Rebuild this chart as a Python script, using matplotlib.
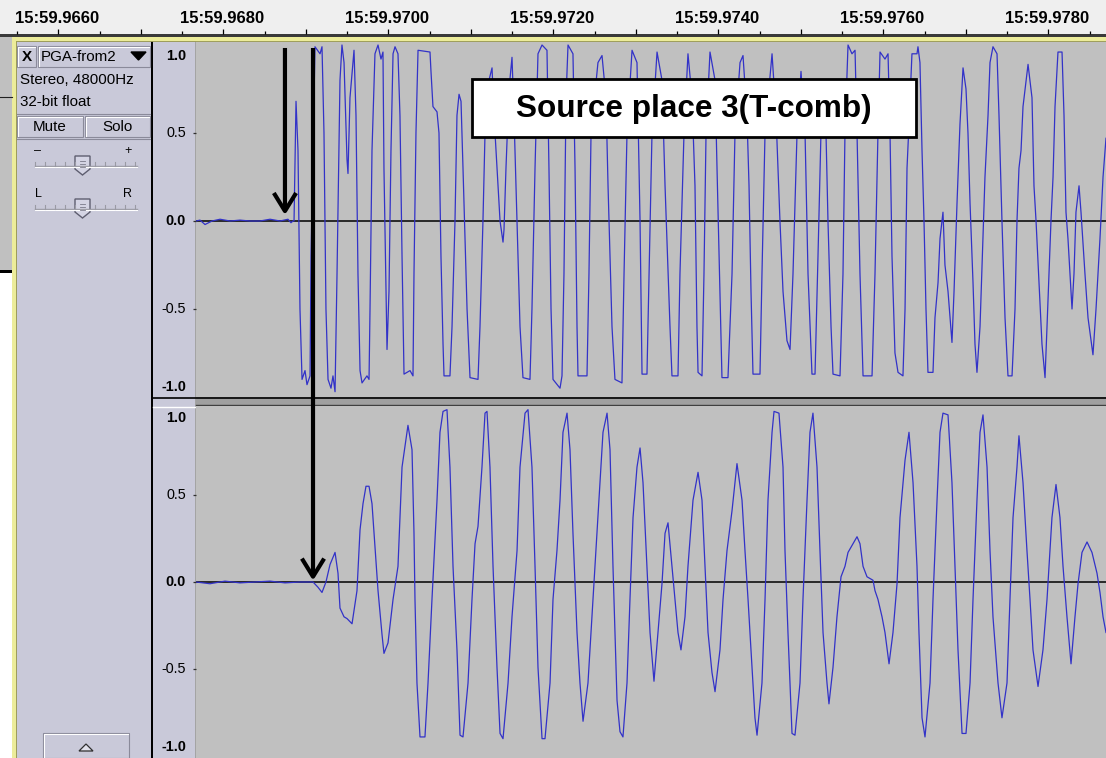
import numpy as np
import matplotlib
matplotlib.use("Agg")
import matplotlib.pyplot as plt
from matplotlib.patches import Rectangle, Polygon, ConnectionPatch

W, H = 1106, 758
FONT = ["Liberation Sans", "DejaVu Sans"]

# time axis: milliseconds after 15:59.9660
ruler_label_ms = [0, 2, 4, 6, 8, 10, 12]
ruler_labels = ["15:59.9660", "15:59.9680", "15:59.9700", "15:59.9720",
                "15:59.9740", "15:59.9760", "15:59.9780"]

amp_ticks = [1.0, 0.5, 0.0, -0.5, -1.0]
amp_labels = ["1.0", "0.5", "0.0", "-0.5", "-1.0"]

# upper channel (left)
top_t = [2.170, 2.218, 2.279, 2.364, 2.461, 2.582, 2.703, 2.824, 2.945, 3.067,
         3.188, 3.285, 3.321, 3.345, 3.358, 3.382, 3.406, 3.430, 3.455, 3.491,
         3.515, 3.552, 3.564, 3.612, 3.673, 3.697, 3.721, 3.745, 3.770, 3.806,
         3.830, 3.855, 3.879, 3.915, 3.939, 3.964, 4.000, 4.012, 4.036, 4.085,
         4.109, 4.133, 4.158, 4.182, 4.242, 4.267, 4.279, 4.303, 4.339, 4.376,
         4.412, 4.436, 4.448, 4.473, 4.485, 4.509, 4.533, 4.558, 4.582, 4.618,
         4.642, 4.667, 4.691, 4.764, 4.800, 4.812, 4.836, 4.861, 5.006, 5.018,
         5.042, 5.091, 5.115, 5.139, 5.164, 5.176, 5.248, 5.273, 5.309, 5.333,
         5.358, 5.382, 5.406, 5.455, 5.491, 5.588, 5.612, 5.648, 5.673, 5.721,
         5.758, 5.782, 5.818, 5.855, 5.891, 5.903, 5.927, 5.964, 6.000, 6.024,
         6.061, 6.097, 6.133, 6.218, 6.242, 6.279, 6.315, 6.364, 6.424, 6.448,
         6.473, 6.497, 6.582, 6.606, 6.630, 6.655, 6.679, 6.739, 6.764, 6.788,
         6.800, 6.909, 6.933, 6.958, 7.042, 7.091, 7.139, 7.164, 7.212, 7.248,
         7.333, 7.358, 7.394, 7.455, 7.515, 7.552, 7.576, 7.636, 7.661, 7.697,
         7.758, 7.818, 7.855, 7.915, 7.939, 8.012, 8.036, 8.085, 8.133, 8.182,
         8.218, 8.242, 8.255, 8.303, 8.327, 8.352, 8.400, 8.461, 8.485, 8.521,
         8.545, 8.618, 8.667, 8.703, 8.764, 8.800, 8.848, 8.873, 8.897, 8.921,
         9.006, 9.030, 9.067, 9.152, 9.200, 9.248, 9.285, 9.333, 9.370, 9.406,
         9.455, 9.503, 9.552, 9.588, 9.636, 9.673, 9.709, 9.745, 9.770, 9.806,
         9.830, 9.867, 9.891, 9.976, 10.012, 10.036, 10.073, 10.121, 10.158, 10.182,
         10.218, 10.255, 10.364, 10.400, 10.436, 10.461, 10.521, 10.558, 10.582, 10.606,
         10.642, 10.679, 10.739, 10.764, 10.788, 10.812, 10.848, 10.909, 10.921, 10.945,
         10.970, 10.994, 11.018, 11.042, 11.103, 11.127, 11.164, 11.188, 11.224, 11.248,
         11.285, 11.333, 11.358, 11.394, 11.430, 11.467, 11.503, 11.527, 11.552, 11.588,
         11.612, 11.636, 11.673, 11.709, 11.733, 11.770, 11.794, 11.830, 11.879, 11.903,
         11.939, 11.976, 12.012, 12.061, 12.097, 12.121, 12.145, 12.170, 12.194, 12.255,
         12.303, 12.327, 12.352, 12.388, 12.424, 12.461, 12.485, 12.533, 12.558, 12.582,
         12.618, 12.667, 12.691, 12.715, 12.739, 12.764, 12.788, 12.812, 12.836, 12.873,
         12.897, 12.945, 12.982, 13.042, 13.079, 13.127, 13.164, 13.200]
top_amp = [0.0, 0.005, -0.02, 0.0, 0.01, 0.0, 0.005, 0.0, 0.0, 0.01,
           0.0, 0.01, -0.01, 0.0, 0.0, 0.68, 0.4, -0.5, -0.9, -0.85,
           -0.93, -0.88, -0.2, 0.99, 0.95, 0.99, 0.5, -0.5, -0.9, -0.95,
           -0.88, -0.97, -0.3, 0.8, 1.0, 0.9, 0.35, 0.27, 0.7, 0.97,
           0.6, -0.3, -0.85, -0.92, -0.88, -0.9, -0.5, 0.4, 0.95, 1.0,
           0.92, 0.96, 0.3, -0.4, -0.73, -0.4, 0.4, 0.95, 0.99, 0.95,
           0.6, -0.2, -0.87, -0.85, -0.88, -0.3, 0.5, 0.97, 0.96, 0.85,
           0.65, 0.62, 0.5, -0.2, -0.7, -0.88, -0.88, -0.6, 0.0, 0.6,
           0.72, 0.68, 0.3, -0.5, -0.89, -0.9, -0.6, 0.0, 0.5, 0.8,
           0.87, 0.6, 0.3, 0.0, -0.12, -0.05, 0.3, 0.75, 0.93, 0.6,
           0.0, -0.6, -0.89, -0.9, -0.5, 0.3, 0.95, 1.0, 0.97, 0.3,
           -0.5, -0.9, -0.95, -0.88, -0.3, 0.7, 1.0, 0.95, 0.3, -0.6,
           -0.88, -0.88, -0.3, 0.5, 0.9, 0.94, 0.7, 0.2, -0.6, -0.9,
           -0.92, -0.3, 0.5, 0.97, 0.9, 0.0, -0.87, -0.87, -0.3, 0.5,
           0.96, 0.8, 0.2, -0.6, -0.88, -0.88, -0.3, 0.5, 0.95, 0.7,
           0.2, -0.6, -0.86, -0.88, -0.3, 0.5, 0.96, 0.8, 0.3, -0.4,
           -0.89, -0.89, -0.3, 0.5, 0.9, 0.94, 0.6, 0.2, -0.4, -0.87,
           -0.87, -0.3, 0.5, 0.95, 0.6, 0.0, -0.4, -0.68, -0.73, -0.3,
           0.5, 0.85, 0.5, -0.3, -0.87, -0.87, -0.2, 0.5, 0.75, 0.5,
           0.0, -0.6, -0.87, -0.88, -0.3, 0.5, 1.0, 0.95, 0.97, 0.5,
           -0.3, -0.88, -0.88, -0.3, 0.5, 0.96, 0.92, 0.95, 0.5, -0.2,
           -0.75, -0.86, -0.88, -0.5, 0.3, 0.55, 0.95, 0.95, 0.99, 0.9,
           0.4, 0.0, -0.5, -0.86, -0.86, -0.55, -0.35, -0.1, 0.05, -0.25,
           -0.4, -0.69, -0.4, 0.1, 0.55, 0.87, 0.75, 0.5, 0.1, -0.35,
           -0.7, -0.86, -0.6, -0.1, 0.25, 0.6, 0.9, 0.99, 0.95, 0.6,
           0.0, -0.55, -0.88, -0.88, -0.5, 0.0, 0.3, 0.4, 0.65, 0.89,
           0.7, 0.2, 0.0, -0.35, -0.7, -0.89, -0.6, 0.0, 0.25, 0.65,
           0.96, 0.96, 0.6, 0.05, -0.1, -0.3, -0.5, -0.3, 0.05, 0.2,
           0.05, -0.3, -0.55, -0.76, -0.5, -0.1, 0.25, 0.47]

# lower channel (right)
bot_t = [2.170, 2.339, 2.521, 2.703, 2.885, 3.067, 3.248, 3.430, 3.588, 3.648,
         3.697, 3.745, 3.794, 3.855, 3.891, 3.915, 3.964, 4.000, 4.061, 4.121,
         4.158, 4.194, 4.230, 4.267, 4.303, 4.339, 4.376, 4.424, 4.448, 4.497,
         4.558, 4.618, 4.667, 4.739, 4.788, 4.812, 4.824, 4.848, 4.885, 4.945,
         4.982, 5.030, 5.091, 5.127, 5.164, 5.212, 5.248, 5.285, 5.333, 5.370,
         5.406, 5.467, 5.515, 5.552, 5.588, 5.636, 5.673, 5.697, 5.733, 5.770,
         5.818, 5.855, 5.891, 5.952, 6.000, 6.061, 6.097, 6.158, 6.194, 6.242,
         6.279, 6.315, 6.364, 6.400, 6.461, 6.497, 6.545, 6.582, 6.618, 6.667,
         6.703, 6.739, 6.788, 6.824, 6.861, 6.921, 6.982, 7.042, 7.103, 7.152,
         7.188, 7.224, 7.273, 7.309, 7.345, 7.394, 7.430, 7.467, 7.515, 7.552,
         7.588, 7.636, 7.673, 7.721, 7.770, 7.818, 7.855, 7.891, 7.939, 7.976,
         8.012, 8.048, 8.097, 8.133, 8.194, 8.255, 8.303, 8.339, 8.376, 8.424,
         8.461, 8.521, 8.558, 8.606, 8.667, 8.727, 8.788, 8.824, 8.861, 8.909,
         8.945, 8.970, 9.030, 9.067, 9.103, 9.152, 9.176, 9.236, 9.285, 9.309,
         9.345, 9.394, 9.430, 9.491, 9.527, 9.576, 9.612, 9.648, 9.697, 9.733,
         9.770, 9.818, 9.842, 9.891, 9.939, 9.988, 10.036, 10.073, 10.133, 10.182,
         10.218, 10.255, 10.303, 10.339, 10.376, 10.400, 10.436, 10.485, 10.521, 10.570,
         10.618, 10.667, 10.703, 10.764, 10.812, 10.861, 10.909, 10.933, 10.970, 11.006,
         11.067, 11.103, 11.152, 11.188, 11.224, 11.285, 11.333, 11.370, 11.406, 11.455,
         11.503, 11.552, 11.588, 11.636, 11.673, 11.709, 11.758, 11.794, 11.830, 11.891,
         11.939, 12.000, 12.036, 12.073, 12.121, 12.145, 12.194, 12.242, 12.279, 12.315,
         12.376, 12.436, 12.485, 12.545, 12.594, 12.642, 12.679, 12.727, 12.776, 12.824,
         12.861, 12.909, 12.970, 13.030, 13.091, 13.127, 13.164, 13.200]
bot_amp = [0.0, -0.01, 0.005, -0.005, 0.0, 0.005, -0.005, 0.0, 0.0, -0.03,
           -0.06, 0.0, 0.1, 0.17, 0.05, -0.15, -0.2, -0.21, -0.24, -0.05,
           0.3, 0.45, 0.55, 0.55, 0.45, 0.2, -0.05, -0.3, -0.41, -0.35,
           -0.1, 0.09, 0.66, 0.9, 0.76, 0.28, -0.1, -0.58, -0.89, -0.89,
           -0.58, -0.1, 0.47, 0.86, 0.98, 0.99, 0.66, 0.09, -0.39, -0.88,
           -0.89, -0.58, -0.1, 0.22, 0.32, 0.66, 0.97, 0.98, 0.66, 0.09,
           -0.49, -0.87, -0.9, -0.58, -0.2, 0.18, 0.66, 0.97, 0.99, 0.66,
           0.09, -0.49, -0.9, -0.9, -0.58, -0.1, 0.18, 0.47, 0.86, 0.97,
           0.76, 0.28, -0.29, -0.58, -0.8, -0.58, -0.1, 0.37, 0.86, 0.97,
           0.76, 0.09, -0.68, -0.86, -0.89, -0.58, -0.1, 0.37, 0.66, 0.77,
           0.57, 0.09, -0.29, -0.57, -0.29, -0.01, 0.28, 0.34, 0.09, -0.1,
           -0.29, -0.39, -0.2, 0.09, 0.47, 0.63, 0.47, 0.09, -0.29, -0.52,
           -0.63, -0.39, -0.1, 0.18, 0.41, 0.68, 0.47, 0.18, -0.1, -0.49,
           -0.78, -0.88, -0.58, -0.1, 0.47, 0.86, 0.98, 0.97, 0.66, 0.18,
           -0.29, -0.87, -0.88, -0.58, -0.1, 0.47, 0.86, 0.97, 0.66, 0.18,
           -0.29, -0.58, -0.7, -0.49, -0.2, 0.03, 0.09, 0.17, 0.22, 0.26,
           0.22, 0.09, 0.03, 0.02, 0.01, -0.05, -0.1, -0.2, -0.29, -0.47,
           -0.29, -0.01, 0.37, 0.7, 0.86, 0.57, 0.09, -0.29, -0.78, -0.89,
           -0.58, -0.1, 0.47, 0.86, 0.97, 0.96, 0.57, 0.09, -0.39, -0.87,
           -0.87, -0.58, -0.1, 0.47, 0.86, 0.96, 0.66, 0.18, -0.2, -0.58,
           -0.78, -0.58, -0.1, 0.37, 0.66, 0.84, 0.57, 0.18, -0.1, -0.39,
           -0.6, -0.39, -0.1, 0.37, 0.56, 0.37, 0.09, -0.2, -0.47, -0.2,
           -0.01, 0.17, 0.23, 0.17, 0.05, -0.06, -0.2, -0.29]

# onset markers (ms)
arrow_ms = [3.248, 3.588]
caption = "Source place 3(T-comb)"

# ---- layout (pixels) ----
PX_PER_MS = 82.5
X0_PX = 17          # pixel where 15:59.9660 sits
WAVE_X0 = 196
LAV = "#c9c9d9"
WAVE_BG = "#c0c0c0"
WAVE_BLUE = "#3232c8"


def box(x0, y0, x1, y1):
    return [x0 / W, 1 - y1 / H, (x1 - x0) / W, (y1 - y0) / H]


fig = plt.figure(figsize=(W / 100, H / 100), dpi=100)
fig.patch.set_facecolor("white")

# chrome layer in pixel coordinates
ch = fig.add_axes([0, 0, 1, 1], zorder=-1)
ch.set_xlim(0, W)
ch.set_ylim(H, 0)
ch.axis("off")


def rect(x0, y0, x1, y1, fc, ec="none", lw=0):
    ch.add_patch(Rectangle((x0, y0), x1 - x0, y1 - y0, facecolor=fc,
                           edgecolor=ec, lw=lw))


def button(x0, y0, x1, y1):
    rect(x0, y0, x1, y1, LAV, ec="#8a8a9a", lw=0.8)
    ch.plot([x0 + 1, x0 + 1, x1 - 1], [y1 - 1, y0 + 1, y0 + 1], color="white", lw=0.8)


def label(x, y, s, **kw):
    kw.setdefault("fontsize", 10.9)
    kw.setdefault("va", "center")
    ch.text(x, y, s, family=FONT, color="black", **kw)


# window behind, left edge
rect(0, 36, 12, 271, WAVE_BG)
rect(0, 270, 12, 273, "black")
ch.plot([0, 12], [97, 97], color="#202020", lw=0.8)

# yellow focus border
rect(12, 36, 16, H, "#ecec9a")
rect(12, 36, W, 41, "#ecec9a")
ch.plot([15.5, 15.5], [40.5, H], color="#9c9c58", lw=0.7)
ch.plot([15.5, W], [40.5, 40.5], color="#9c9c58", lw=0.7)

# track control panel + vertical ruler
rect(16, 41, 151, H, LAV)
rect(151, 41, 153, H, "black")
rect(153, 41, 195, H, LAV)
rect(195, 41, 196, H, "#a4a4a4")

# separator between the two channels
rect(196, 397, W, 406, "#a0a0a0")
ch.plot([153, W], [397.5, 397.5], color="black", lw=1.2)
ch.plot([196, W], [405.3, 405.3], color="#404040", lw=1.0)
ch.plot([153, 195], [406.5, 406.5], color="white", lw=1.0)

# close box and track name
button(17, 46, 36, 67)
label(26.5, 57, "X", ha="center", fontsize=11, weight="bold")
button(38, 46, 150, 67)
label(41, 57, "PGA-from2", ha="left")
ch.add_patch(Polygon([(131, 52), (146, 52), (138.5, 60)], closed=True,
                     facecolor="black", edgecolor="black"))
label(20, 80, "Stereo, 48000Hz")
label(20, 102, "32-bit float")
ch.plot([17, 150], [114, 114], color="#8a8a9a", lw=0.8)

button(17, 116, 83, 137)
label(50, 127, "Mute", ha="center")
button(85, 116, 150, 137)
label(117.5, 127, "Solo", ha="center")
ch.plot([17, 150], [139, 139], color="#8a8a9a", lw=0.8)


def slider(y_line, left, right):
    label(38, y_line - 15, left, ha="center", fontsize=9)
    label(128, y_line - 15, right, ha="center", fontsize=9)
    ch.plot([35, 137], [y_line, y_line], color="#9a9aa4", lw=1.0)
    ch.plot([35, 137], [y_line + 1.2, y_line + 1.2], color="white", lw=0.8)
    for xt in [35, 45, 55, 65, 75, 95, 105, 115, 125, 135]:
        ch.plot([xt, xt], [y_line - 4, y_line], color="#9a9aa4", lw=0.8)
    yt = y_line - 10
    ch.add_patch(Polygon([(75, yt), (90, yt), (90, yt + 13), (82.5, yt + 19),
                          (75, yt + 13)], closed=True, facecolor="#d4d4e4",
                         edgecolor="#5e5e70", lw=1.0))
    for dy in (5, 8, 11):
        ch.plot([80, 85], [yt + dy, yt + dy], color="#7a7a8a", lw=0.6)


slider(166, "\u2013", "+")
slider(209, "L", "R")

# collapse button
button(43, 733, 129, 758)
ch.add_patch(Polygon([(79, 751), (93, 751), (86, 744)], closed=True,
                     facecolor="#e0e0ea", edgecolor="#303030", lw=0.9))

# ---- time ruler ----
ax_r = fig.add_axes(box(0, 0, W, 34))
ax_r.set_facecolor("#efefef")
ax_r.set_xlim(-X0_PX / PX_PER_MS, (W - X0_PX) / PX_PER_MS)
ax_r.set_ylim(0, 1)
for s in ax_r.spines.values():
    s.set_visible(False)
ax_r.set_yticks([])
ax_r.set_xticks(np.arange(0, 13.5, 1.0))
ax_r.set_xticks(np.arange(0.5, 13.5, 1.0), minor=True)
ax_r.tick_params(axis="x", which="major", direction="in", length=2.2, width=0.9,
                 color="black", labelbottom=False)
ax_r.tick_params(axis="x", which="minor", direction="in", length=3.6, width=0.9,
                 color="black")
for t, s in zip(ruler_label_ms, ruler_labels):
    ax_r.annotate(s, xy=(t, 0.47), xycoords=("data", "axes fraction"),
                  xytext=(-2, 0), textcoords="offset pixels", ha="left",
                  va="center", family=FONT, fontsize=12, weight="bold")
rect(0, 34, W, 36.5, "#3a3a3a")

# ---- waveform channels ----
x_lim = ((WAVE_X0 - X0_PX) / PX_PER_MS, (W - X0_PX) / PX_PER_MS)
ax_top = fig.add_axes(box(WAVE_X0, 42, W, 397))
ax_bot = fig.add_axes(box(WAVE_X0, 406, W, 758))

channels = [
    (ax_top, top_t, top_amp, (-1.0, 1.017), {1.0: -11, -1.0: 10}),
    (ax_bot, bot_t, bot_amp, (-1.011, 1.011), {1.0: -10, -1.0: 9}),
]
for ax, t, a, ylim, edge_off in channels:
    ax.set_facecolor(WAVE_BG)
    ax.axhline(0, color="black", lw=1.1, zorder=1)
    ax.plot(t, a, color=WAVE_BLUE, lw=0.9, zorder=2)
    ax.set_xlim(*x_lim)
    ax.set_ylim(*ylim)
    for s in ax.spines.values():
        s.set_visible(False)
    ax.set_xticks([])
    ax.set_yticks([-0.5, 0.0, 0.5])
    ax.tick_params(axis="y", direction="out", length=2.4, width=0.9,
                   color="#303030", labelleft=False)
    for v, s in zip(amp_ticks, amp_labels):
        bold = v in (1.0, 0.0, -1.0)
        ax.annotate(s, xy=(0, v), xycoords=("axes fraction", "data"),
                    xytext=(-10, edge_off.get(v, 0)), textcoords="offset pixels",
                    ha="right", va="center", family=FONT, fontsize=10.4,
                    weight="bold" if bold else "normal", annotation_clip=False)

# ---- annotations ----
arrow_kw = dict(arrowstyle="->,head_length=0.65,head_width=0.4",
                mutation_scale=20, lw=3.0, color="black",
                shrinkA=0, shrinkB=0, zorder=5, capstyle="butt")
fig.add_artist(ConnectionPatch(xyA=(arrow_ms[0], 0.983), coordsA=ax_top.transData,
                               xyB=(arrow_ms[0], 0.034), coordsB=ax_top.transData,
                               **arrow_kw))
fig.add_artist(ConnectionPatch(xyA=(arrow_ms[1], 0.983), coordsA=ax_top.transData,
                               xyB=(arrow_ms[1], 0.008), coordsB=ax_bot.transData,
                               **arrow_kw))

fig.add_artist(Rectangle((472 / W, 1 - 137 / H), (916 - 472) / W, (137 - 79) / H,
                         transform=fig.transFigure, facecolor="white",
                         edgecolor="black", lw=2.0, zorder=6))
fig.text(694 / W, 1 - 108.5 / H, caption, ha="center", va="center",
         family=FONT, fontsize=22.7, weight="bold", zorder=7)

fig.savefig("out.png", dpi=100, facecolor=fig.get_facecolor())
